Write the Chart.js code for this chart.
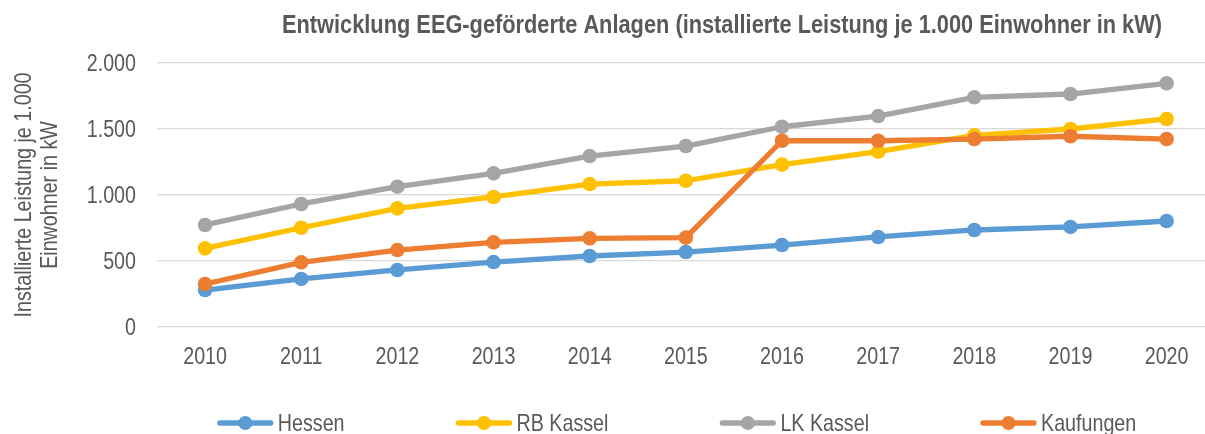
<!DOCTYPE html>
<html lang="de">
<head>
<meta charset="utf-8">
<title>Entwicklung EEG-geförderte Anlagen</title>
<script src="https://cdn.jsdelivr.net/npm/chart.js@4.4.1/dist/chart.umd.min.js"></script>
<style>
  html, body { margin: 0; padding: 0; background: #fff; overflow: hidden; }
  #wrap { width: 1222px; height: 434px; }
</style>
</head>
<body>
<div id="wrap"><canvas id="chart"></canvas></div>
<script>
// ── data ───────────────────────────────────────────────
const YEARS = ['2010','2011','2012','2013','2014','2015','2016','2017','2018','2019','2020'];

const HESSEN    = [280, 364, 432, 492, 538, 568, 621, 682, 735, 758, 803];
const RB_KASSEL = [596, 752, 899, 985, 1083, 1108, 1230, 1328, 1452, 1500, 1576];
const LK_KASSEL = [773, 932, 1063, 1164, 1295, 1371, 1517, 1598, 1740, 1765, 1846];
const KAUFUNGEN = [326, 490, 583, 641, 672, 677, 1411, 1411, 1424, 1445, 1424];

const Y_TICKS = [0, 500, 1000, 1500, 2000];

const SERIES_NAMES = ['Hessen', 'RB Kassel', 'LK Kassel', 'Kaufungen'];
const SERIES_COLORS = ['#5B9BD5', '#FFC000', '#A5A5A5', '#ED7D31'];

const TITLE = 'Entwicklung EEG-geförderte Anlagen (installierte Leistung je 1.000 Einwohner in kW)';
const Y_TITLE = ['Installierte Leistung je 1.000', 'Einwohner in kW'];

// ── style ──────────────────────────────────────────────
// no Arial Narrow here: draw Liberation Sans squeezed horizontally instead
const FONT = "'Liberation Sans', Arial, sans-serif";
const NARROW = 0.82;
const TEXT = '#595959';

function narrowText(ctx, str, x, y, opts = {}) {
  ctx.save();
  ctx.font = opts.font || `24px ${FONT}`;
  ctx.fillStyle = opts.color || TEXT;
  ctx.textAlign = opts.align || 'left';
  ctx.textBaseline = opts.baseline || 'alphabetic';
  ctx.translate(x, y);
  if (opts.rotate) ctx.rotate(opts.rotate);
  ctx.scale(opts.sx || NARROW, 1);
  ctx.fillText(str, 0, 0);
  ctx.restore();
}

function textWidth(ctx, str, font, sx = NARROW) {
  ctx.save();
  ctx.font = font;
  const w = ctx.measureText(str).width * sx;
  ctx.restore();
  return w;
}

// axis labels, titles and legend drawn by hand so the text can be narrow
const textPlugin = {
  id: 'xlText',
  afterDraw(chart) {
    const ctx = chart.ctx;
    const xs = chart.scales.x, ys = chart.scales.y;

    // x tick labels
    xs.ticks.forEach((t, i) => {
      narrowText(ctx, xs.getLabelForValue(t.value), xs.getPixelForTick(i), 364, { align: 'center' });
    });

    // y tick labels
    Y_TICKS.forEach(v => {
      narrowText(ctx, v.toLocaleString('de-DE'), 136, ys.getPixelForValue(v) + 1,
        { align: 'right', baseline: 'middle' });
    });

    // y axis title (two lines, rotated)
    const midY = (ys.top + ys.bottom) / 2;
    narrowText(ctx, Y_TITLE[0], 31, midY, { align: 'center', rotate: -Math.PI / 2 });
    narrowText(ctx, Y_TITLE[1], 57, midY, { align: 'center', rotate: -Math.PI / 2 });

    // chart title
    const tFont = `bold 25px ${FONT}`;
    const tW = textWidth(ctx, TITLE, tFont, 1);
    narrowText(ctx, TITLE, 722, 33, { font: tFont, align: 'center', sx: 880 / tW });

    // legend: line with a dot, then the name
    const lineLen = 55, gap = 5, spacing = 112, y = 423;
    const lFont = `24px ${FONT}`;
    const items = chart.data.datasets.map(ds => ({
      ds, w: lineLen + gap + textWidth(ctx, ds.label, lFont)
    }));
    const total = items.reduce((s, it) => s + it.w, 0) + spacing * (items.length - 1);
    let x = 677 - total / 2;
    items.forEach(({ ds, w }) => {
      ctx.save();
      ctx.strokeStyle = ds.borderColor;
      ctx.lineWidth = 5.3;
      ctx.lineCap = 'round';
      ctx.beginPath();
      ctx.moveTo(x + 2, y);
      ctx.lineTo(x + lineLen - 2, y);
      ctx.stroke();
      ctx.fillStyle = ds.borderColor;
      ctx.beginPath();
      ctx.arc(x + lineLen / 2, y, 7, 0, Math.PI * 2);
      ctx.fill();
      ctx.restore();
      narrowText(ctx, ds.label, x + lineLen + gap, 431, { font: lFont });
      x += w + spacing;
    });
  }
};

function makeSet(i, data, order) {
  return {
    label: SERIES_NAMES[i],
    data,
    borderColor: SERIES_COLORS[i],
    backgroundColor: SERIES_COLORS[i],
    borderWidth: 5.3,
    pointRadius: 7.3,
    pointHoverRadius: 7.3,
    pointBorderWidth: 0,
    borderJoinStyle: 'round',
    tension: 0,
    order,   // later series drawn on top, like Excel
  };
}

new Chart(document.getElementById('chart'), {
  type: 'line',
  data: {
    labels: YEARS,
    datasets: [
      makeSet(0, HESSEN, 4),
      makeSet(1, RB_KASSEL, 3),
      makeSet(2, LK_KASSEL, 2),
      makeSet(3, KAUFUNGEN, 1),
    ],
  },
  options: {
    responsive: true,
    maintainAspectRatio: false,
    animation: false,
    layout: { padding: { top: 63, right: 4, bottom: 57, left: 0 } },
    plugins: {
      legend: { display: false },
      title: { display: false },
      tooltip: { enabled: false },
    },
    scales: {
      x: {
        offset: true,
        grid: { display: false },
        border: { display: false },
        ticks: { display: false },
        afterFit: s => { s.height = 50; },
      },
      y: {
        min: 0, max: 2000,
        afterBuildTicks: s => { s.ticks = Y_TICKS.map(v => ({ value: v })); },
        grid: { color: '#D9D9D9', lineWidth: 1.3, drawTicks: false },
        border: { display: false },
        ticks: { display: false },
        afterFit: s => { s.width = 157; },
      },
    },
  },
  plugins: [textPlugin],
});
</script>
</body>
</html>
